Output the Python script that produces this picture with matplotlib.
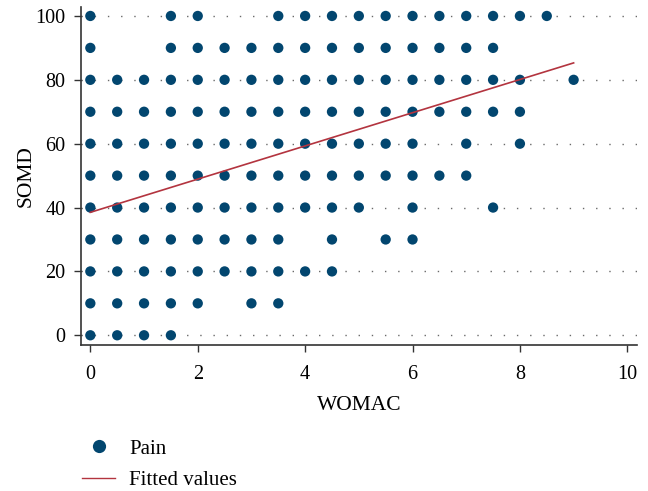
import matplotlib
matplotlib.use("Agg")
import matplotlib.pyplot as plt
from matplotlib.lines import Line2D

plt.rcParams['font.family'] = ['Liberation Serif', 'DejaVu Serif']

# WOMAC values observed at each SOMD level
somd_100 = [0, 1.5, 2, 3.5, 4, 4.5, 5, 5.5, 6, 6.5, 7, 7.5, 8, 8.5]
somd_90 = [0, 1.5, 2, 2.5, 3, 3.5, 4, 4.5, 5, 5.5, 6, 6.5, 7, 7.5]
somd_80 = [0, 0.5, 1, 1.5, 2, 2.5, 3, 3.5, 4, 4.5, 5, 5.5, 6, 6.5, 7, 7.5, 8, 9]
somd_70 = [0, 0.5, 1, 1.5, 2, 2.5, 3, 3.5, 4, 4.5, 5, 5.5, 6, 6.5, 7, 7.5, 8]
somd_60 = [0, 0.5, 1, 1.5, 2, 2.5, 3, 3.5, 4, 4.5, 5, 5.5, 6, 7, 8]
somd_50 = [0, 0.5, 1, 1.5, 2, 2.5, 3, 3.5, 4, 4.5, 5, 5.5, 6, 6.5, 7]
somd_40 = [0, 0.5, 1, 1.5, 2, 2.5, 3, 3.5, 4, 4.5, 5, 6, 7.5]
somd_30 = [0, 0.5, 1, 1.5, 2, 2.5, 3, 3.5, 4.5, 5.5, 6]
somd_20 = [0, 0.5, 1, 1.5, 2, 2.5, 3, 3.5, 4, 4.5]
somd_10 = [0, 0.5, 1, 1.5, 2, 3, 3.5]
somd_0 = [0, 0.5, 1, 1.5]

somd_levels = [100, 90, 80, 70, 60, 50, 40, 30, 20, 10, 0]
womac_rows = [somd_100, somd_90, somd_80, somd_70, somd_60, somd_50,
              somd_40, somd_30, somd_20, somd_10, somd_0]

# Fitted line endpoints
fit_x = [0, 9]
fit_y = [38.5, 85.3]

x_ticks = [0, 2, 4, 6, 8, 10]
y_ticks = [0, 20, 40, 60, 80, 100]

dot_color = '#02466f'
line_color = '#b3343f'

fig = plt.figure(figsize=(6.48, 4.91), dpi=100)
ax = fig.add_axes([0.1245, 0.297, 0.8585, 0.6887])

xs, ys = [], []
for lvl, row in zip(somd_levels, womac_rows):
    xs.extend(row)
    ys.extend([lvl] * len(row))

for yt in y_ticks:
    ax.axhline(yt, color='#6a6a6a', lw=1.0, linestyle=(0, (1, 8.5)), zorder=0.5)

ax.scatter(xs, ys, s=55, color=dot_color, edgecolors='none', zorder=3)
ax.plot(fit_x, fit_y, color=line_color, lw=1.2, zorder=4)

ax.set_xlim(-0.18, 10.18)
ax.set_ylim(-3.1, 102.8)
ax.set_xticks(x_ticks)
ax.set_yticks(y_ticks)
ax.tick_params(axis='both', direction='out', length=5, width=1, labelsize=14.5, color='#333333')
ax.tick_params(axis='x', pad=9)
ax.tick_params(axis='y', pad=6)
for s in ['top', 'right']:
    ax.spines[s].set_visible(False)
for s in ['left', 'bottom']:
    ax.spines[s].set_linewidth(1.2)
    ax.spines[s].set_color('#333333')

ax.set_xlabel('WOMAC', fontsize=15.5, labelpad=9)
ax.set_ylabel('SOMD', fontsize=15.5, labelpad=0)

handles = [Line2D([], [], marker='o', linestyle='none', markersize=9.5,
                  markerfacecolor=dot_color, markeredgecolor='none'),
           Line2D([], [], color=line_color, lw=1)]
fig.legend(handles, ['Pain', 'Fitted values'], loc='upper left',
           bbox_to_anchor=(0.1265, 0.106), frameon=False,
           fontsize=15, handlelength=1.6, handletextpad=0.67, labelspacing=0.58,
           borderaxespad=0, borderpad=0)

fig.savefig('out.png', dpi=100)
